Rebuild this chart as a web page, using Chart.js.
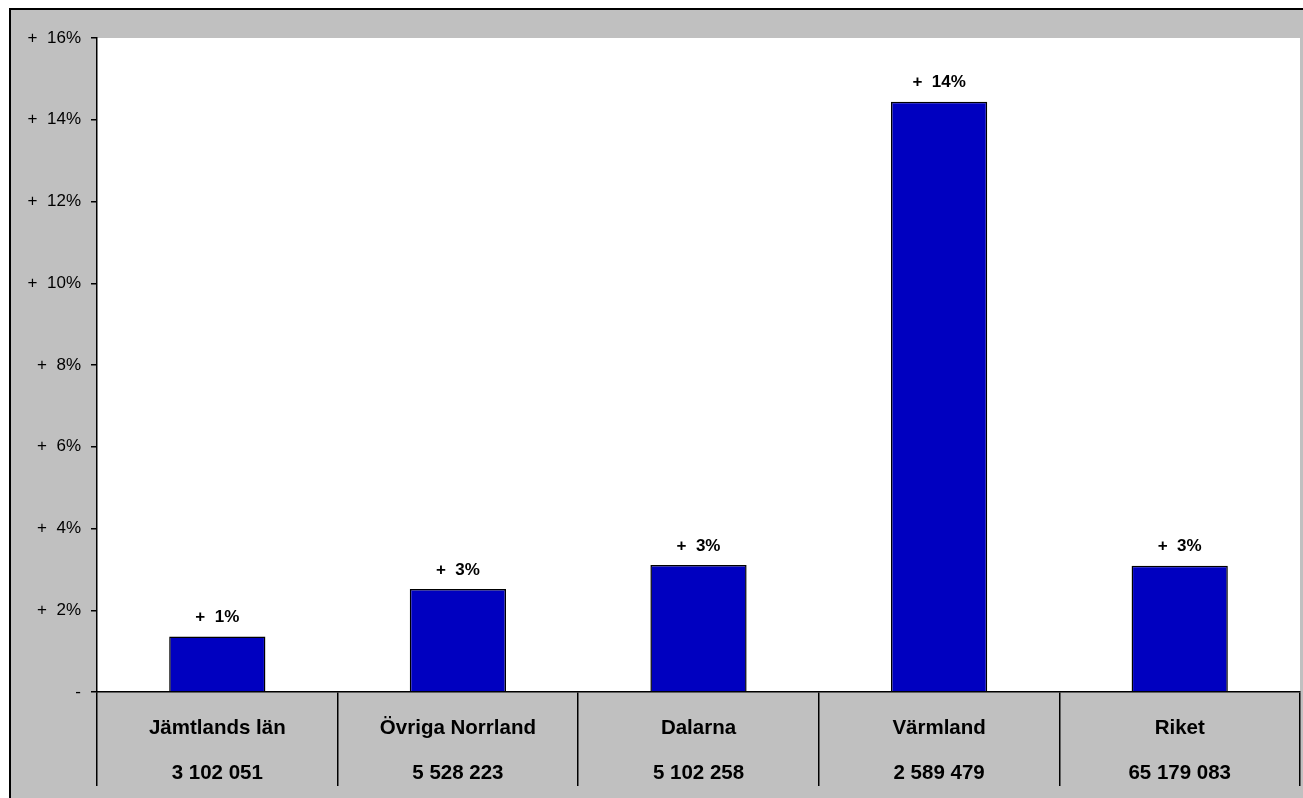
<!DOCTYPE html>
<html lang="sv">
<head>
<meta charset="utf-8">
<title>Förändring per region</title>
<script src="https://cdn.jsdelivr.net/npm/chart.js@4/dist/chart.umd.min.js"></script>
<style>
  html, body { margin: 0; padding: 0; background: #fff; }
  canvas { display: block; }
</style>
</head>
<body>
<canvas id="chart" width="1303" height="798"></canvas>
<script>
const kategorier = ['Jämtlands län', 'Övriga Norrland', 'Dalarna', 'Värmland', 'Riket'];
const invanare = ['3 102 051', '5 528 223', '5 102 258', '2 589 479', '65 179 083'];
const forandring = [1.36, 2.52, 3.11, 14.44, 3.09];
const yMin = 0;
const yMax = 16;
const yStep = 2;

const FONT = 'Arial, "Liberation Sans", sans-serif';

// grå ram + vit rityta
const bakgrund = {
  id: 'bakgrund',
  beforeDraw(chart) {
    const { ctx, width, height, chartArea: a } = chart;
    ctx.save();
    ctx.fillStyle = '#fff';
    ctx.fillRect(0, 0, width, height);
    ctx.fillStyle = '#c0c0c0';
    ctx.fillRect(10, 8, width - 10, height - 8);
    ctx.fillStyle = '#fff';
    ctx.fillRect(a.left, a.top, a.right - a.left, a.bottom - a.top);
    ctx.strokeStyle = '#000';
    ctx.lineWidth = 2;
    ctx.beginPath();
    ctx.moveTo(10, height);
    ctx.lineTo(10, 9);
    ctx.lineTo(width, 9);
    ctx.stroke();
    ctx.restore();
  }
};

// "+  14%" ovanför staplarna
const etiketter = {
  id: 'etiketter',
  afterDatasetsDraw(chart) {
    const { ctx } = chart;
    const meta = chart.getDatasetMeta(0);
    ctx.save();
    ctx.font = 'bold 17px ' + FONT;
    ctx.fillStyle = '#000';
    ctx.textAlign = 'center';
    ctx.textBaseline = 'middle';
    meta.data.forEach((bar, i) => {
      ctx.fillText('+  ' + Math.round(forandring[i]) + '%', bar.x, bar.y - 19);
    });
    ctx.restore();
  }
};

Chart.defaults.font.family = FONT;
Chart.defaults.color = '#000';

new Chart(document.getElementById('chart'), {
  type: 'bar',
  data: {
    labels: kategorier.map((k, i) => [k, invanare[i]]),
    datasets: [{
      data: forandring,
      backgroundColor: '#0000c0',
      borderColor: '#000',
      borderWidth: 1.5,
      barPercentage: 0.4,
      categoryPercentage: 1,
    }],
  },
  options: {
    responsive: false,
    animation: false,
    devicePixelRatio: 1,
    layout: { padding: { top: 38, right: 3, left: 0, bottom: 0 } },
    plugins: { legend: { display: false }, tooltip: { enabled: false } },
    scales: {
      x: {
        grid: { offset: true, drawOnChartArea: false, tickLength: 94, color: '#000', lineWidth: 1.5 },
        border: { color: '#000', width: 1.5 },
        ticks: {
          color: '#000',
          font: { size: 20.5, weight: 'bold', lineHeight: 2.2 },
          padding: -80,
          maxRotation: 0,
          autoSkip: false,
        },
        afterFit(s) { s.height = 106; },
      },
      y: {
        min: yMin,
        max: yMax,
        ticks: {
          stepSize: yStep,
          padding: 10,
          color: '#000',
          font: { size: 17 },
          callback: v => v === 0 ? '-' : '+  ' + v + '%',
        },
        grid: { drawOnChartArea: false, tickLength: 6, color: '#000', lineWidth: 1.5 },
        border: { color: '#000', width: 1.5 },
        afterFit(s) { s.width = 97; },
      },
    },
  },
  plugins: [bakgrund, etiketter],
});
</script>
</body>
</html>
